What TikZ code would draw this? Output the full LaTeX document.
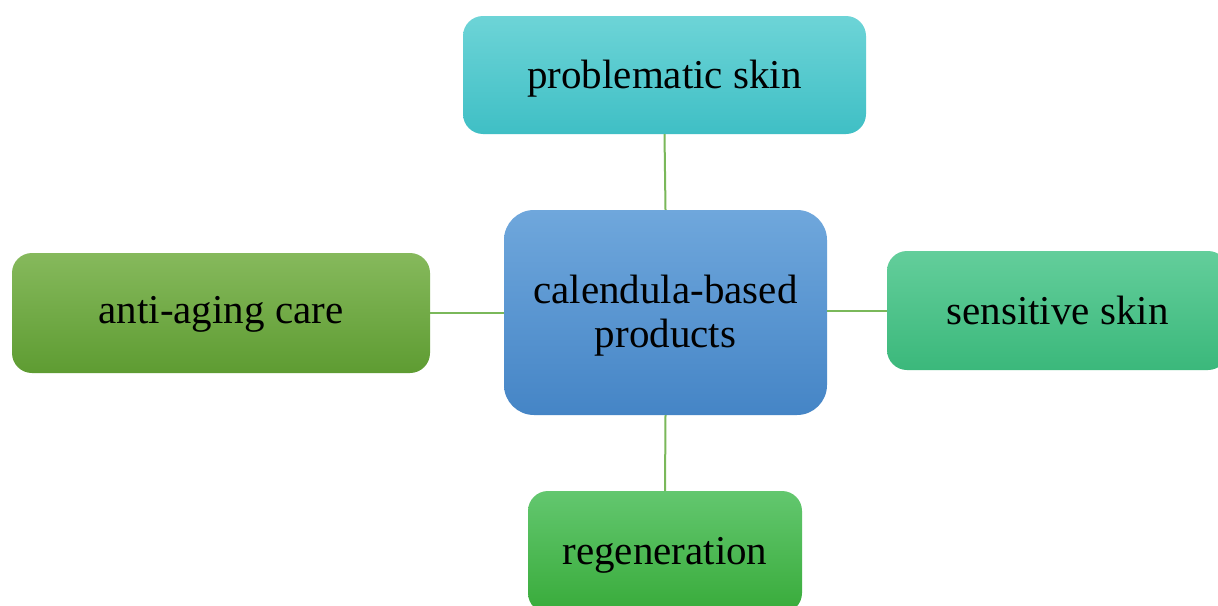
\documentclass[tikz,border=0pt]{standalone}
\usepackage{fontspec}
\setmainfont{Liberation Serif}
\definecolor{cyanT}{HTML}{6DD4D7}
\definecolor{cyanB}{HTML}{3FBFC5}
\definecolor{blueT}{HTML}{6FA7DC}
\definecolor{blueB}{HTML}{4585C6}
\definecolor{leafT}{HTML}{86B95C}
\definecolor{leafB}{HTML}{5E9C32}
\definecolor{mintT}{HTML}{63CE9B}
\definecolor{mintB}{HTML}{3BB87B}
\definecolor{grassT}{HTML}{63C76F}
\definecolor{grassB}{HTML}{38AB3A}
\definecolor{linkc}{HTML}{7AB85A}
\tikzset{
  box/.style={rounded corners=20pt, inner sep=0pt, align=center,
    font=\fontsize{41}{44}\selectfont, text=black},
  link/.style={draw=linkc, line width=2pt}
}
\begin{document}
\begin{tikzpicture}[x=1pt,y=-1pt]
\useasboundingbox (0,0) rectangle (1218,605);
\fill[white] (0,0) rectangle (1218,605);
\node[box, text depth=2pt, top color=cyanT, bottom color=cyanB, minimum width=403pt, minimum height=118pt] (top) at (664.5,75) {problematic skin};
\node[box, text depth=2pt, rounded corners=30pt, top color=blueT, bottom color=blueB, minimum width=323pt, minimum height=205pt] (mid) at (665.5,312.5) {calendula-based\\products};
\node[box, text depth=6pt, top color=leafT, bottom color=leafB, minimum width=418pt, minimum height=120pt] (left) at (221,313) {anti-aging care};
\node[box, top color=mintT, bottom color=mintB, minimum width=341pt, minimum height=119pt] (right) at (1057.5,310.5) {sensitive skin};
\node[box, text depth=2pt, top color=grassT, bottom color=grassB, minimum width=274pt, minimum height=122pt] (bot) at (665,552) {regeneration};
\draw[link] (top.south) -- (mid.north);
\draw[link] (left.east) -- (mid.west |- left.east);
\draw[link] (mid.east |- right.west) -- (right.west);
\draw[link] (mid.south) -- (bot.north);
\end{tikzpicture}
\end{document}
